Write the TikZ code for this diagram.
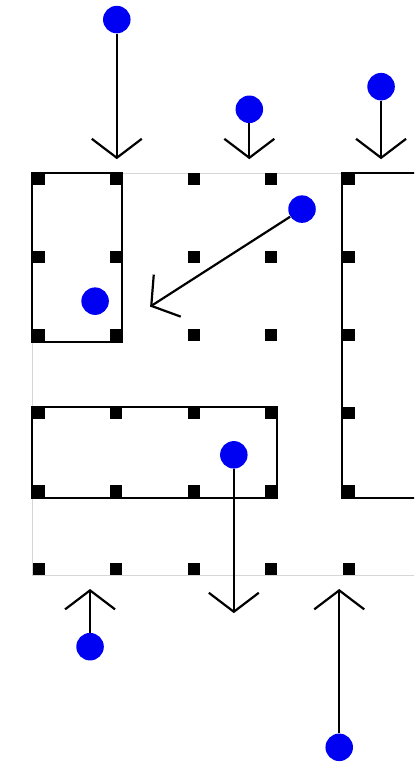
\documentclass[tikz,border=0pt]{standalone}
\usepackage{tikz}
\usetikzlibrary{arrows.meta,positioning}
\definecolor{DotBlue}{HTML}{0000F2}
\definecolor{FrameGray}{HTML}{D6D6D6}
\tikzset{
    % Grid point style
    gridnode/.style={
        fill=black,
        inner sep=0pt,
        minimum size=0.24cm
    },
    % Particle style
    dotnode/.style={
        circle,
        fill=DotBlue,
        inner sep=0pt,
        minimum size=0.55cm
    },
    % Wall style
    wallbox/.style={
        draw=black,
        line width=1.3pt
    },
    % Outer frame style
    framebox/.style={
        draw=FrameGray,
        line width=0.6pt
    },
    % Arrow style (open barb)
    myarrow/.style={
        -{Straight Barb[length=0.38cm,width=1cm]},
        line width=1.25pt,
        draw=black
    }
}

\begin{document}
\begin{tikzpicture}[x=1.55cm, y=-1.56cm]
    \useasboundingbox (-0.497,-2.301) rectangle (4.845,7.481);
    \begin{scope}
        \clip (-0.497,-2.301) rectangle (4.845,7.481);
        \draw[framebox] (-0.08,-0.08) rectangle (5.5,5.08);
        \draw[wallbox] (-0.08,-0.08) rectangle (1.08,2.08);
        \draw[wallbox] (-0.08,2.92) rectangle (3.08,4.08);
        \draw[wallbox] (3.92,-0.08) rectangle (5.5,4.08);
    \end{scope}

    \foreach \i in {0,...,4} {
        \foreach \j in {0,...,5} {
            \node[gridnode] (g-\i-\j) at (\i,\j) {};
        }
    }

    \node[dotnode] (d1) at (1.01,-2.05) {};
    \node[dotnode] (d2) at (2.72,-0.9) {};
    \node[dotnode] (d3) at (4.42,-1.19) {};
    \node[dotnode] (d4) at (3.4,0.38) {};
    \node[dotnode] (d5) at (0.73,1.56) {};
    \node[dotnode] (d6) at (2.52,3.53) {};
    \node[dotnode] (d7) at (0.665,5.99) {};
    \node[dotnode] (d8) at (3.88,7.28) {};

    \coordinate (t1) at (1.01,-0.26);
    \coordinate (t2) at (2.72,-0.26);
    \coordinate (t3) at (4.42,-0.26);
    \coordinate (t4) at (1.44,1.63);
    \coordinate (t6) at (2.52,5.56);
    \coordinate (t7) at (0.665,5.25);
    \coordinate (t8) at (3.88,5.25);

    \draw[myarrow] (d1) -- (t1);
    \draw[myarrow] (d2) -- (t2);
    \draw[myarrow] (d3) -- (t3);
    \draw[myarrow] (d4) -- (t4);
    \draw[myarrow] (d6) -- (t6);
    \draw[myarrow] (d7) -- (t7);
    \draw[myarrow] (d8) -- (t8);
\end{tikzpicture}
\end{document}
